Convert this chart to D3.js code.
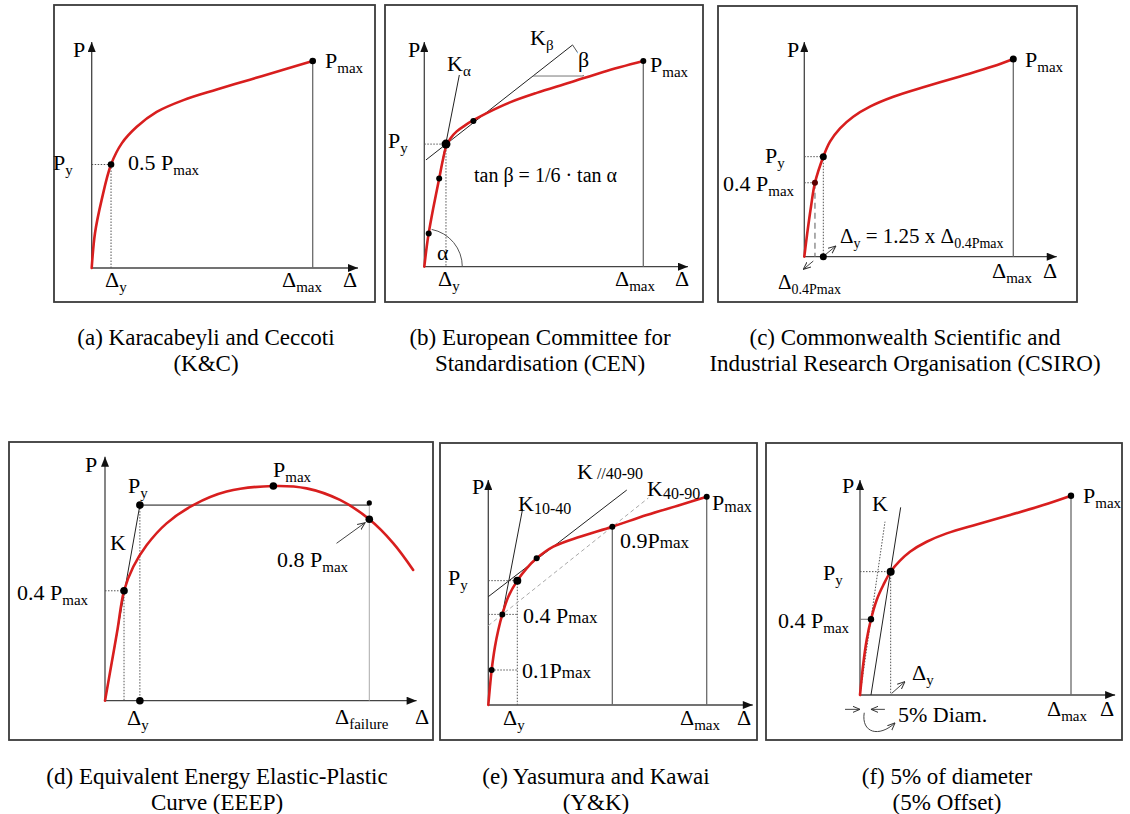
<!DOCTYPE html>
<html>
<head>
<meta charset="utf-8">
<script src="https://cdn.jsdelivr.net/npm/d3@7"></script>
<style>
body { margin: 0; background: #fff; }
text { font-family: "Liberation Serif", "Times New Roman", serif; fill: #000; white-space: pre; }
</style>
</head>
<body>
<div id="chart"></div>
<script>
/*
*    yield point definitions - six load/slip sketches
*    displacement and load are fractions of the panel's reference point (Dmax / Pmax)
*/

// (a) Karacabeyli and Ceccoti
var aDisp = [0, 0.015, 0.045, 0.0875, 0.136, 0.204, 0.294, 0.415, 0.566, 0.716, 0.867, 1];
var aLoad = [0, 0.169, 0.329, 0.5, 0.602, 0.682, 0.754, 0.811, 0.862, 0.910, 0.958, 1];
var aYield = [0.0875, 0.5];

// (b) CEN
var bDisp = [0, 0.011, 0.020, 0.041, 0.068, 0.084, 0.100, 0.120, 0.148, 0.186, 0.224, 0.285, 0.391, 0.513, 0.665, 0.817, 1];
var bLoad = [0, 0.097, 0.162, 0.285, 0.429, 0.515, 0.585, 0.625, 0.658, 0.687, 0.712, 0.747, 0.799, 0.845, 0.895, 0.947, 1];
var bMarks = [[0.020, 0.162], [0.068, 0.429], [0.224, 0.708]];
var bYield = [0.099, 0.596];
var bKalpha = [[0.0746, 0.470], [0.160, 0.932]];
var bKbeta = [[0.0076, 0.519], [0.677, 1.078]];
var bBetaBase = [[0.496, 0.927], [0.726, 0.927]];

// (c) CSIRO
var cDisp = [0, 0.014, 0.032, 0.051, 0.091, 0.123, 0.171, 0.234, 0.314, 0.426, 0.585, 0.745, 0.904, 1];
var cLoad = [0, 0.118, 0.253, 0.374, 0.506, 0.582, 0.649, 0.708, 0.759, 0.809, 0.862, 0.912, 0.963, 1];
var cYield = [0.091, 0.506];
var c04 = [0.051, 0.374];
var cLeadY = [[0.104, 0.013], [0.151, 0.054]];
var cLead04 = [[0.043, -0.022], [-0.005, -0.064]];

// (d) EEEP
var dDisp = [0, 0.025, 0.047, 0.072, 0.107, 0.158, 0.233, 0.334, 0.460, 0.637, 0.763, 0.889, 1.0, 1.091, 1.166];
var dLoad = [0, 0.174, 0.329, 0.512, 0.624, 0.725, 0.826, 0.911, 0.974, 1.0, 0.989, 0.935, 0.845, 0.733, 0.609];
var dMarks = [[0.072, 0.512], [0.637, 1.0], [1.0, 0.845]];
var dYield = [0.132, 0.911];
var dLead = [[0.876, 0.733], [0.984, 0.829]];

// (e) Yasumura and Kawai
var eDisp = [0, 0.0076, 0.0153, 0.0305, 0.0458, 0.0641, 0.0916, 0.1328, 0.1756, 0.2214, 0.2977, 0.4198, 0.5679, 0.7252, 0.8779, 1];
var eLoad = [0, 0.088, 0.168, 0.28, 0.36, 0.435, 0.52, 0.597, 0.656, 0.704, 0.76, 0.808, 0.856, 0.912, 0.96, 1];
var eMarks = [[0.0153, 0.168], [0.0641, 0.435], [0.2214, 0.704], [0.5679, 0.856], [1, 1]];
var eYield = [0.1328, 0.597];
var eK1040 = [[0.0595, 0.408], [0.157, 0.941]];
var eKpar = [[0, 0.52], [0.634, 1.032]];
var eK4090 = [[0, 0.381], [0.733, 0.994]];
var eTickEnd = 0.137;

// (f) 5% offset
var fDisp = [0, 0.0158, 0.0316, 0.0521, 0.079, 0.1106, 0.1453, 0.1896, 0.237, 0.316, 0.411, 0.553, 0.711, 0.869, 1];
var fLoad = [0, 0.159, 0.276, 0.380, 0.477, 0.552, 0.619, 0.674, 0.719, 0.769, 0.811, 0.856, 0.903, 0.953, 1];
var f04 = [0.0521, 0.380];
var fYield = [0.1453, 0.619];
var fKoffset = [[0.0521, 0], [0.1927, 0.9415]];
var fKinit = [[0, 0], [0.1185, 0.8696]];
var fLeadY = [[0.150, 0.008], [0.213, 0.067]];
var fGapL = [[-0.071, -0.072], [0, -0.072]];
var fGapR = [[0.118, -0.072], [0.052, -0.072]];
var fCurl = [[0.02, -0.089], [0.005, -0.19], [0.09, -0.215], [0.166, -0.14]];

var width = 1130;
var height = 814;

var svg = d3.select("#chart")
	.append("svg")
	.attr("width", width)
	.attr("height", height);

var defs = svg.append("defs");
defs.append("marker")
	.attr("id", "axArrow")
	.attr("viewBox", "0 0 10 8")
	.attr("refX", 10).attr("refY", 4)
	.attr("markerWidth", 11).attr("markerHeight", 8)
	.attr("markerUnits", "userSpaceOnUse")
	.attr("orient", "auto")
	.append("path").attr("d", "M0,0L10,4L0,8Z").attr("fill", "#111");
defs.append("marker")
	.attr("id", "openArrow")
	.attr("viewBox", "0 0 8 8")
	.attr("refX", 7.5).attr("refY", 4)
	.attr("markerWidth", 8).attr("markerHeight", 8)
	.attr("markerUnits", "userSpaceOnUse")
	.attr("orient", "auto")
	.append("path").attr("d", "M0,0.8L7.5,4L0,7.2").attr("fill", "none").attr("stroke", "#333").attr("stroke-width", 1);

var styles = {
	axis: {stroke: "#444", w: 1.3, marker: "axArrow"},
	drop: {stroke: "#6a6a6a", w: 1.3},
	dotted: {stroke: "#555", w: 1, dash: "1.5,1.5"},
	tan: {stroke: "#222", w: 1},
	thin: {stroke: "#777", w: 1},
	light: {stroke: "#aaa", w: 1},
	plateau: {stroke: "#777", w: 1.8},
	dash: {stroke: "#aaa", w: 1, dash: "4,3"},
	dashDrop: {stroke: "#777", w: 1.2, dash: "6,4"},
	lead: {stroke: "#444", w: 1, marker: "openArrow"}
};

function panel(box, origin, refPt, axisEnd) {
	svg.append("rect")
		.attr("x", box[0]).attr("y", box[1])
		.attr("width", box[2] - box[0]).attr("height", box[3] - box[1])
		.attr("fill", "none").attr("stroke", "#3a3a3a").attr("stroke-width", 1.8);
	var p = {
		g: svg.append("g"),
		x: d3.scaleLinear().domain([0, 1]).range([origin[0], refPt[0]]),
		y: d3.scaleLinear().domain([0, 1]).range([origin[1], refPt[1]])
	};
	p.axisEnd = axisEnd;
	return p;
}

function axes(p) {
	seg(p, [[0, 0], [p.axisEnd[0], 0]], "axis");
	seg(p, [[0, 0], [0, p.axisEnd[1]]], "axis");
}

function seg(p, pts, st) {
	var s = styles[st];
	var path = p.g.append("path")
		.attr("d", d3.line().x((d) => p.x(d[0])).y((d) => p.y(d[1]))(pts))
		.attr("fill", "none")
		.attr("stroke", s.stroke)
		.attr("stroke-width", s.w);
	if (s.dash) path.attr("stroke-dasharray", s.dash);
	if (s.marker) path.attr("marker-end", "url(#" + s.marker + ")");
	return path;
}

// dotted projection of a point onto both axes
function project(p, pt) {
	seg(p, [[0, pt[1]], [pt[0], pt[1]]], "dotted");
	seg(p, [[pt[0], pt[1]], [pt[0], 0]], "dotted");
}

function curve(p, xs, ys) {
	var pts = xs.map((d, i) => [d, ys[i]]);
	p.g.append("path")
		.attr("d", d3.line().curve(d3.curveCatmullRom.alpha(0.5)).x((d) => p.x(d[0])).y((d) => p.y(d[1]))(pts))
		.attr("fill", "none")
		.attr("stroke", "#d81e1e")
		.attr("stroke-width", 2.6)
		.attr("stroke-linecap", "round");
}

function dots(p, pts, r, fill) {
	p.g.selectAll(null).data(pts).enter().append("circle")
		.attr("cx", (d) => p.x(d[0]))
		.attr("cy", (d) => p.y(d[1]))
		.attr("r", r || 3.3)
		.attr("fill", fill || "#000");
}

function angleArc(p, center, r, lineSeg) {
	var cx = p.x(center[0]), cy = p.y(center[1]);
	var a = Math.atan2(p.y(lineSeg[1][1]) - p.y(lineSeg[0][1]), p.x(lineSeg[1][0]) - p.x(lineSeg[0][0]));
	var path = d3.path();
	path.arc(cx, cy, r, 0, a, true);
	p.g.append("path").attr("d", path.toString())
		.attr("fill", "none").attr("stroke", "#555").attr("stroke-width", 1);
}

// text with optional subscripts: parts = ["P", ["max"]]
function label(spec) {
	var opt = spec[3] || {};
	var size = opt.size || 22, sub = opt.sub || 15, shift = opt.shift == null ? 5 : opt.shift;
	var t = svg.append("text")
		.attr("x", spec[0]).attr("y", spec[1])
		.attr("font-size", size);
	if (opt.anchor) t.attr("text-anchor", opt.anchor);
	if (opt.halo) t.attr("stroke", "#fff").attr("stroke-width", 6).attr("paint-order", "stroke");
	var cur = 0;
	spec[2].forEach((pt) => {
		var isSub = Array.isArray(pt);
		var target = isSub ? shift : 0;
		t.append("tspan")
			.attr("dy", target - cur)
			.attr("font-size", isSub ? sub : size)
			.text(isSub ? pt[0] : pt);
		cur = target;
	});
}

// ---------- (a)
var pa = panel([54, 5, 375, 302], [91.7, 268], [312.7, 61], [1.205, 1.092]);
axes(pa);
seg(pa, [[1, 1], [1, 0]], "drop");
project(pa, aYield);
curve(pa, aDisp, aLoad);
dots(pa, [aYield, [1, 1]]);
[
	[73, 57, ["P"]],
	[53, 170, ["P", ["y"]]],
	[128, 170, ["0.5 P", ["max"]]],
	[105, 287, ["Δ", ["y"]]],
	[282, 287, ["Δ", ["max"]]],
	[343, 287, ["Δ"]],
	[325, 68, ["P", ["max"]]]
].forEach(label);

// ---------- (b)
var pb = panel([385, 5, 703, 302], [424.3, 266.7], [643.3, 61], [1.204, 1.092]);
axes(pb);
seg(pb, [[1, 1], [1, 0]], "drop");
project(pb, bYield);
seg(pb, bKalpha, "tan");
seg(pb, bKbeta, "tan");
seg(pb, bBetaBase, "thin");
angleArc(pb, [0, 0], 38, bKalpha);
angleArc(pb, bBetaBase[0], pb.x(bBetaBase[1][0]) - pb.x(bBetaBase[0][0]), bKbeta);
curve(pb, bDisp, bLoad);
dots(pb, bMarks.concat([[1, 1]]), 3);
dots(pb, [bYield], 4.5);
[
	[408, 57, ["P"]],
	[447, 71, ["K", ["α"]]],
	[530, 45, ["K", ["β"]]],
	[578, 67, ["β"], {halo: true}],
	[388, 148, ["P", ["y"]]],
	[474, 182, ["tan β = 1/6 · tan α"], {size: 20}],
	[650, 72, ["P", ["max"]]],
	[437, 260, ["α"]],
	[438, 286, ["Δ", ["y"]]],
	[615, 286, ["Δ", ["max"]]],
	[675, 286, ["Δ"]]
].forEach(label);

// ---------- (c)
var pc = panel([718, 6, 1077, 302], [804.3, 256.7], [1013.3, 59], [1.208, 1.086]);
axes(pc);
seg(pc, [[1, 1], [1, 0]], "drop");
project(pc, cYield);
seg(pc, [[0, c04[1]], [c04[0], c04[1]]], "dotted");
seg(pc, [[c04[0], c04[1]], [c04[0], 0]], "dashDrop");
seg(pc, cLeadY, "lead");
seg(pc, cLead04, "lead");
curve(pc, cDisp, cLoad);
dots(pc, [cYield, [cYield[0], 0], [1, 1]], 3.5);
dots(pc, [c04], 3, "#5a0000");
[
	[787, 57, ["P"]],
	[1025, 67, ["P", ["max"]]],
	[765, 163, ["P", ["y"]]],
	[723, 191, ["0.4 P", ["max"]]],
	[840, 243, ["Δ", ["y"], " = 1.25 x Δ", ["0.4Pmax"]], {size: 21, sub: 14}],
	[778, 289, ["Δ", ["0.4Pmax"]], {size: 21, sub: 14}],
	[992, 278, ["Δ", ["max"]]],
	[1043, 278, ["Δ"]]
].forEach(label);

// ---------- (d)
var pd = panel([9, 442, 433, 740], [105, 700.7], [369.3, 486], [1.179, 1.136]);
axes(pd);
seg(pd, [[1, dYield[1]], [1, 0]], "light");
project(pd, dMarks[0]);
seg(pd, [[dYield[0], dYield[1]], [dYield[0], 0]], "dotted");
seg(pd, [[0, 0], dYield], "tan");
seg(pd, [dYield, [1, dYield[1]]], "plateau");
seg(pd, dLead, "lead");
curve(pd, dDisp, dLoad);
dots(pd, dMarks.concat([dYield, [dYield[0], 0]]), 3.8);
dots(pd, [[1, dYield[1] + 0.01]], 2.6);
[
	[85, 472, ["P"]],
	[128, 493, ["P", ["y"]]],
	[273, 477, ["P", ["max"]]],
	[110, 550, ["K"]],
	[17, 600, ["0.4 P", ["max"]]],
	[277, 567, ["0.8 P", ["max"]]],
	[127, 725, ["Δ", ["y"]]],
	[335, 724, ["Δ", ["failure"]]],
	[415, 724, ["Δ"]]
].forEach(label);

// ---------- (e)
var pe = panel([440, 443, 757, 740], [488.3, 705], [706.7, 496.7], [1.211, 1.08]);
axes(pe);
seg(pe, [[1, 1], [1, 0]], "drop");
seg(pe, [[eMarks[3][0], eMarks[3][1]], [eMarks[3][0], 0]], "drop");
project(pe, eYield);
seg(pe, [[0, eMarks[1][1]], [eTickEnd, eMarks[1][1]]], "dotted");
seg(pe, [[0, eMarks[0][1]], [eTickEnd, eMarks[0][1]]], "dotted");
seg(pe, eK4090, "dash");
seg(pe, eK1040, "tan");
seg(pe, eKpar, "tan");
curve(pe, eDisp, eLoad);
dots(pe, eMarks, 3);
dots(pe, [eYield], 4);
[
	[472, 494, ["P"]],
	[577, 479, ["K", [" //40-90"]], {shift: 0, sub: 16}],
	[647, 496, ["K", ["40-90"]], {shift: 3, sub: 16}],
	[518, 511, ["K", ["10-40"]], {shift: 3, sub: 16}],
	[712, 510, ["P", ["max"]], {shift: 2, sub: 16}],
	[620, 548, ["0.9P", ["max"]], {shift: 0, sub: 17}],
	[448, 585, ["P", ["y"]]],
	[523, 623, ["0.4 P", ["max"]], {shift: 0, sub: 17}],
	[522, 678, ["0.1P", ["max"]], {shift: 0, sub: 17}],
	[503, 725, ["Δ", ["y"]]],
	[680, 725, ["Δ", ["max"]]],
	[737, 725, ["Δ"]]
].forEach(label);

// ---------- (f)
var pf = panel([766, 443, 1122, 740], [860, 695], [1071, 495.7], [1.209, 1.079]);
axes(pf);
seg(pf, [[1, 1], [1, 0]], "drop");
project(pf, fYield);
seg(pf, [[0, f04[1]], [f04[0], f04[1]]], "thin");
seg(pf, fKinit, "dotted");
seg(pf, fKoffset, "tan");
seg(pf, fLeadY, "lead");
seg(pf, fGapL, "lead");
seg(pf, fGapR, "lead");
var curl = d3.path();
curl.moveTo(pf.x(fCurl[0][0]), pf.y(fCurl[0][1]));
curl.bezierCurveTo(pf.x(fCurl[1][0]), pf.y(fCurl[1][1]), pf.x(fCurl[2][0]), pf.y(fCurl[2][1]), pf.x(fCurl[3][0]), pf.y(fCurl[3][1]));
pf.g.append("path").attr("d", curl.toString())
	.attr("fill", "none").attr("stroke", "#444").attr("stroke-width", 1)
	.attr("marker-end", "url(#openArrow)");
curve(pf, fDisp, fLoad);
dots(pf, [f04, [1, 1]], 3.2);
dots(pf, [fYield], 4);
[
	[842, 493, ["P"]],
	[872, 511, ["K"]],
	[1083, 503, ["P", ["max"]]],
	[823, 580, ["P", ["y"]]],
	[778, 628, ["0.4 P", ["max"]]],
	[912, 680, ["Δ", ["y"]]],
	[898, 722, ["5% Diam."]],
	[1047, 716, ["Δ", ["max"]]],
	[1100, 716, ["Δ"]]
].forEach(label);

// ---------- captions
var captions = [
	[206, 345, "(a) Karacabeyli and Ceccoti", "(K&C)"],
	[540, 345, "(b) European Committee for", "Standardisation (CEN)"],
	[905, 345, "(c) Commonwealth Scientific and", "Industrial Research Organisation (CSIRO)"],
	[217, 784, "(d) Equivalent Energy Elastic-Plastic", "Curve (EEEP)"],
	[596, 784, "(e) Yasumura and Kawai", "(Y&K)"],
	[947, 784, "(f) 5% of diameter", "(5% Offset)"]
];
captions.forEach((c) => {
	[c[2], c[3]].forEach((line, i) => {
		svg.append("text")
			.attr("x", c[0])
			.attr("y", c[1] + i * 26)
			.attr("text-anchor", "middle")
			.attr("font-size", 23)
			.text(line);
	});
});
</script>
</body>
</html>
